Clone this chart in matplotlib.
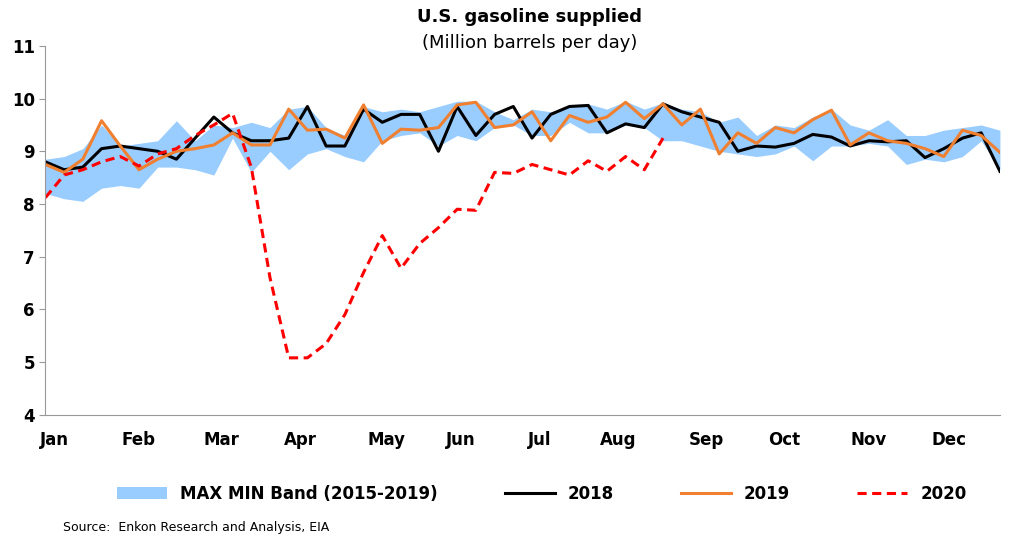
import numpy as np
import matplotlib.pyplot as plt

months = ["Jan", "Feb", "Mar", "Apr", "May", "Jun", "Jul", "Aug", "Sep", "Oct", "Nov", "Dec"]
month_pos = [0.5, 5, 9.4, 13.6, 18.2, 22.2, 26.4, 30.6, 35.3, 39.5, 44, 48.3]

s2018 = [8.8, 8.65, 8.7, 9.05, 9.1, 9.05, 9.0, 8.85, 9.25, 9.65, 9.35, 9.2, 9.2, 9.25, 9.85, 9.1,
         9.1, 9.8, 9.55, 9.7, 9.7, 9.0, 9.85, 9.3, 9.7, 9.85, 9.25, 9.7, 9.85, 9.87, 9.35, 9.52,
         9.45, 9.9, 9.75, 9.65, 9.55, 9.0, 9.1, 9.08, 9.15, 9.32, 9.27, 9.1, 9.2, 9.18, 9.2, 8.88,
         9.05, 9.25, 9.35, 8.62]
s2019 = [8.75, 8.6, 8.85, 9.58, 9.1, 8.65, 8.85, 9.0, 9.05, 9.12, 9.35, 9.12, 9.12, 9.8, 9.4, 9.42,
         9.25, 9.88, 9.15, 9.42, 9.4, 9.45, 9.88, 9.93, 9.45, 9.5, 9.75, 9.2, 9.68, 9.55, 9.65, 9.93,
         9.62, 9.9, 9.5, 9.8, 8.95, 9.35, 9.15, 9.45, 9.35, 9.6, 9.78, 9.12, 9.35, 9.2, 9.15, 9.05,
         8.9, 9.4, 9.3, 8.98]
s2020 = [8.12, 8.55, 8.65, 8.8, 8.9, 8.72, 8.95, 9.05, 9.3, 9.5, 9.72, 8.7, 6.6, 5.08, 5.08, 5.35,
         5.9, 6.7, 7.4, 6.78, 7.25, 7.55, 7.9, 7.88, 8.6, 8.58, 8.75, 8.65, 8.55, 8.82, 8.62, 8.9,
         8.65, 9.25]
band_max = [8.85, 8.9, 9.05, 9.5, 9.1, 9.15, 9.2, 9.58, 9.2, 9.5, 9.45, 9.55, 9.45, 9.8, 9.85, 9.45,
            9.3, 9.85, 9.75, 9.8, 9.75, 9.85, 9.95, 9.95, 9.75, 9.6, 9.8, 9.75, 9.85, 9.9, 9.8, 9.95,
            9.8, 9.92, 9.8, 9.75, 9.55, 9.65, 9.3, 9.5, 9.45, 9.65, 9.8, 9.5, 9.4, 9.6, 9.3, 9.3,
            9.4, 9.45, 9.5, 9.4]
band_min = [8.2, 8.1, 8.05, 8.3, 8.35, 8.3, 8.7, 8.7, 8.65, 8.55, 9.25, 8.6, 9.0, 8.65, 8.95, 9.05,
            8.9, 8.8, 9.2, 9.3, 9.35, 9.1, 9.3, 9.2, 9.45, 9.5, 9.3, 9.3, 9.55, 9.35, 9.35, 9.5,
            9.45, 9.2, 9.2, 9.1, 9.0, 8.95, 8.9, 8.95, 9.1, 8.82, 9.1, 9.1, 9.15, 9.1, 8.75, 8.85,
            8.8, 8.9, 9.2, 8.65]

fig = plt.figure(figsize=(10.09, 5.53), dpi=100)
ax = fig.add_axes([0.045, 0.25, 0.946, 0.667])
w = np.arange(52)
ax.fill_between(w, band_min, band_max, color="#99ccff", lw=0, label="MAX MIN Band (2015-2019)")
ax.plot(w, s2018, color="black", lw=2.2, label="2018")
ax.plot(w, s2019, color="#f08030", lw=2.2, label="2019")
ax.plot(np.arange(len(s2020)), s2020, color="#ff0000", lw=2.2, ls=(0, (3, 1.8)), label="2020")

ax.set_xlim(0, 51)
ax.set_ylim(4, 11)
ax.set_yticks(range(4, 12))
ax.set_xticks(month_pos)
ax.set_xticklabels(months)
ax.tick_params(axis="x", length=0, pad=12)
ax.tick_params(axis="y", length=4, color="#999999")
for lab in ax.get_xticklabels() + ax.get_yticklabels():
    lab.set_fontweight("bold")
    lab.set_fontsize(12)
for s in ["top", "right"]:
    ax.spines[s].set_visible(False)
for s in ["left", "bottom"]:
    ax.spines[s].set_color("#999999")

fig.text(0.525, 0.96, "U.S. gasoline supplied", ha="center", fontsize=13, fontweight="bold")
fig.text(0.525, 0.913, "(Million barrels per day)", ha="center", fontsize=13)
ax.legend(loc="upper center", bbox_to_anchor=(0.52, -0.15), ncol=4, frameon=False,
          prop={"weight": "bold", "size": 12}, handlelength=3, columnspacing=4)
fig.text(0.062, 0.04, "Source:  Enkon Research and Analysis, EIA", fontsize=9)
fig.savefig("out.png")
